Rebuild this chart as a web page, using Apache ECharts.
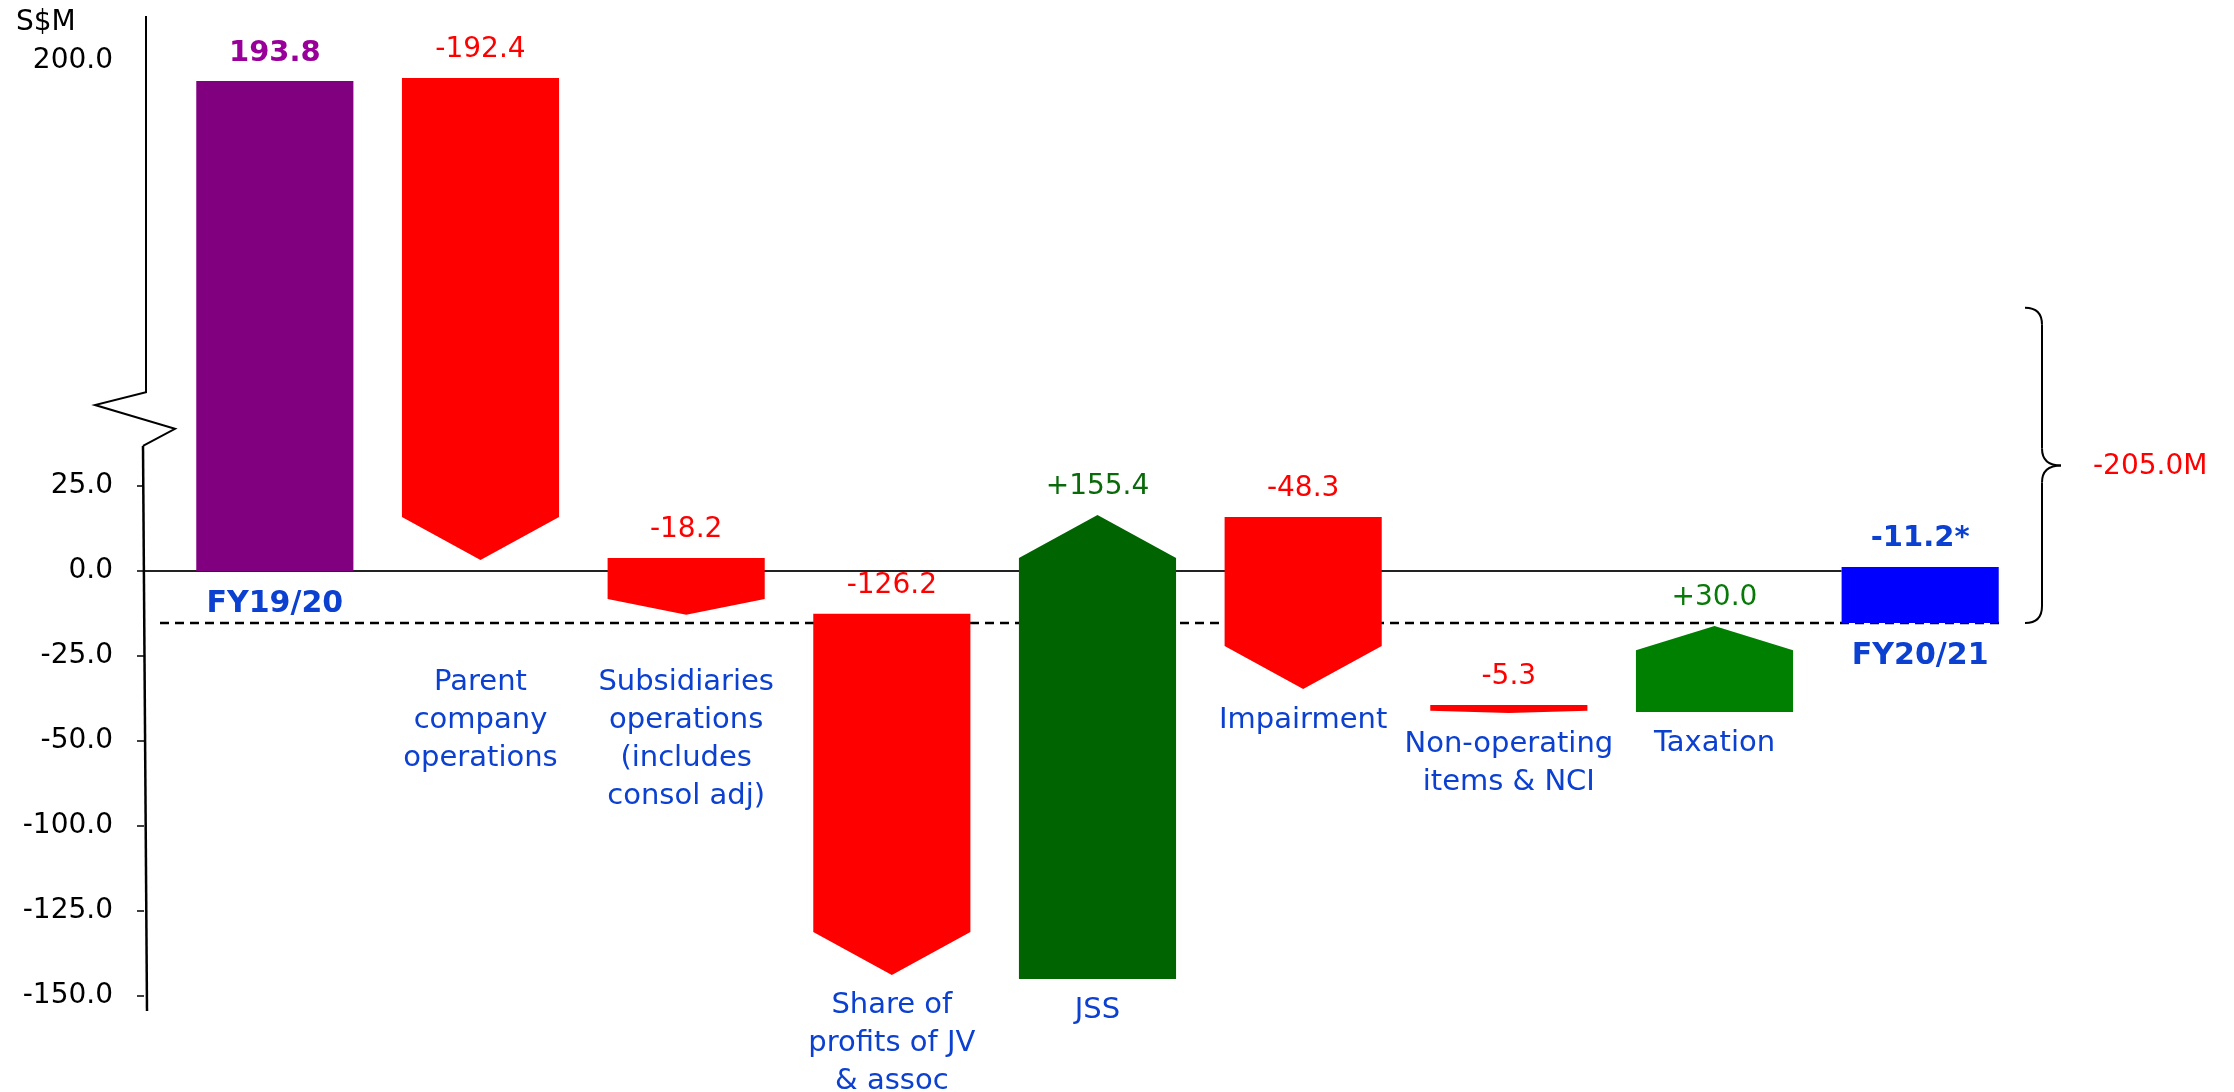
<!DOCTYPE html>
<html>
<head>
<meta charset="utf-8">
<title>Net profit bridge FY19/20 to FY20/21</title>
<script src="https://cdn.jsdelivr.net/npm/echarts@6/dist/echarts.min.js"></script>
<style>
    html, body { margin: 0; padding: 0; background: #fff; }
    #chart { width: 2234px; height: 1092px; }
</style>
</head>
<body>
<div id="chart"></div>
<script>
// Categories (line breaks as in the slide)
const categories = [
    'FY19/20',
    'Parent\ncompany\noperations',
    'Subsidiaries\noperations\n(includes\nconsol adj)',
    'Share of\nprofits of JV\n& assoc',
    'JSS',
    'Impairment',
    'Non-operating\nitems & NCI',
    'Taxation',
    'FY20/21'
];
// Printed values
const valueLabels = ['193.8', '-192.4', '-18.2', '-126.2', '+155.4', '-48.3', '-5.3', '+30.0', '-11.2*'];
// The slide is drawn on a broken, schematic scale: start/end of each shape
// in plotted axis units
const barStart = [0, 145, 3.8, -12.6, -120, 15.9, -39.4, -41.5, -15.3];
const barEnd = [144.1, 3.2, -12.9, -118.8, 16.5, -34.7, -41.8, -16.2, 1.2];
const isTotal = [true, false, false, false, false, false, false, false, true];

// Y axis: plotted position -> printed label
const tickValues = [150, 25, 0, -25, -50, -75, -100, -125];
const tickLabels = ['200.0', '25.0', '0.0', '-25.0', '-50.0', '-100.0', '-125.0', '-150.0'];

// Bracket on the right
const bracketRange = [77.4, -15.3];
const bracketLabel = '-205.0M';

// styles
const barColors = ['#800080', '#FF0000', '#FF0000', '#FF0000', '#006400', '#FF0000', '#FF0000', '#008000', '#0000FF'];
const labelColors = ['#990099', '#FF0000', '#FF0000', '#FF0000', '#0A6A0A', '#FF0000', '#FF0000', '#087A08', '#0B40D0'];
const CAT_COLOR = '#0B40D0';
const FONT = '"DejaVu Sans", Verdana, sans-serif';
const BAR_RATIO = 0.764;

const chart = echarts.init(document.getElementById('chart'));

function renderShape(params, api) {
    const i = api.value(0);
    const start = api.coord([i, api.value(1)]);
    const end = api.coord([i, api.value(2)]);
    const w = api.size([1, 0])[0] * BAR_RATIO;
    const cx = start[0];
    const x0 = cx - w / 2, x1 = cx + w / 2;
    const yS = start[1], yE = end[1];

    let points;
    if (isTotal[i]) {
        points = [[x0, yS], [x1, yS], [x1, yE], [x0, yE]];
    } else {
        // pentagon arrow pointing from start to end
        const len = Math.abs(yE - yS);
        const head = Math.min(43, len * 0.28);
        const dir = yE > yS ? 1 : -1;
        const neck = yE - dir * head;
        points = [[x0, yS], [x1, yS], [x1, neck], [cx, yE], [x0, neck]];
    }

    const topY = Math.min(yS, yE);
    const lowY = Math.max(yS, yE);
    const rowY = api.coord([i, -32])[1];
    const catCenter = isTotal[i] ? lowY + 33 : Math.max(lowY + 31, rowY + 3);
    const lineH = 38;

    return {
        type: 'group',
        children: [
            {
                type: 'polygon',
                shape: { points: points },
                style: { fill: barColors[i] }
            },
            {
                type: 'text',
                style: {
                    text: valueLabels[i],
                    x: cx,
                    y: topY - 28,
                    align: 'center',
                    verticalAlign: 'middle',
                    fill: labelColors[i],
                    fontFamily: FONT,
                    fontSize: isTotal[i] ? 29 : 28,
                    fontWeight: isTotal[i] ? 'bold' : 'normal'
                }
            },
            {
                type: 'text',
                style: {
                    text: categories[i],
                    x: cx,
                    y: catCenter - lineH / 2,
                    align: 'center',
                    verticalAlign: 'top',
                    lineHeight: lineH,
                    fill: CAT_COLOR,
                    fontFamily: FONT,
                    fontSize: isTotal[i] ? 30 : 29,
                    fontWeight: isTotal[i] ? 'bold' : 'normal'
                }
            }
        ]
    };
}

const option = {
    backgroundColor: '#fff',
    animation: false,
    grid: { left: 172, right: 211, top: 10, bottom: 79 },
    xAxis: {
        type: 'category',
        data: categories,
        show: false
    },
    yAxis: {
        type: 'value',
        min: -130,
        max: 165,
        offset: 28,
        axisLine: { show: false },
        splitLine: { show: false },
        axisTick: {
            show: true,
            length: 7,
            customValues: tickValues.filter(v => v !== 150),
            lineStyle: { color: '#000', width: 1.5 }
        },
        axisLabel: {
            customValues: tickValues,
            margin: 31,
            color: '#000',
            fontSize: 28,
            fontFamily: FONT,
            formatter: function (v) {
                const k = tickValues.indexOf(v);
                return k >= 0 ? tickLabels[k] : '';
            }
        }
    },
    series: [{
        type: 'custom',
        z: 5,
        renderItem: renderShape,
        data: categories.map((c, i) => [i, barStart[i], barEnd[i]])
    }]
};

chart.setOption(option);

// decorations placed through the axis scales
const py = v => chart.convertToPixel({ yAxisIndex: 0 }, v);
const px = i => chart.convertToPixel({ xAxisIndex: 0 }, i);
const axisX = 172 - 28;
const slot = px(1) - px(0);
const lastLeft = px(categories.length - 1) - slot * BAR_RATIO / 2;
const zeroY = py(0);
const closeY = py(barStart[barStart.length - 1]);
const bTop = py(bracketRange[0]);
const bBot = py(bracketRange[1]);
const bMid = (bTop + bBot) / 2;
const bx = 2042;
const r = 17;
const stroke = { stroke: '#000', lineWidth: 2, fill: null };

chart.setOption({
    graphic: [
        // upper axis part, break zigzag, lower axis part
        {
            type: 'polyline', z: 10,
            shape: { points: [[axisX + 2, py(163.2)], [axisX + 2, py(52.6)], [axisX - 49, py(48.8)], [axisX + 31, py(41.8)], [axisX - 1, py(36.8)]] },
            style: stroke
        },
        {
            type: 'line', z: 10,
            shape: { x1: axisX - 1, y1: py(36.8), x2: axisX + 3, y2: py(-129.4) },
            style: { stroke: '#000', lineWidth: 2.5 }
        },
        // zero line
        {
            type: 'line', z: 1,
            shape: { x1: axisX, y1: zeroY, x2: lastLeft, y2: zeroY },
            style: { stroke: '#222', lineWidth: 2 }
        },
        // closing level dashed line
        {
            type: 'line', z: 1,
            shape: { x1: 160, y1: closeY, x2: 2005, y2: closeY },
            style: { stroke: '#000', lineWidth: 2.5, lineDash: [9, 6] }
        },
        // curly bracket
        { type: 'bezierCurve', z: 10, shape: { x1: bx - r, y1: bTop, cpx1: bx, cpy1: bTop, x2: bx, y2: bTop + r }, style: stroke },
        { type: 'line', z: 10, shape: { x1: bx, y1: bTop + r, x2: bx, y2: bMid - r }, style: stroke },
        { type: 'bezierCurve', z: 10, shape: { x1: bx, y1: bMid - r, cpx1: bx, cpy1: bMid, x2: bx + 19, y2: bMid }, style: stroke },
        { type: 'bezierCurve', z: 10, shape: { x1: bx + 19, y1: bMid, cpx1: bx, cpy1: bMid, x2: bx, y2: bMid + r }, style: stroke },
        { type: 'line', z: 10, shape: { x1: bx, y1: bMid + r, x2: bx, y2: bBot - r }, style: stroke },
        { type: 'bezierCurve', z: 10, shape: { x1: bx, y1: bBot - r, cpx1: bx, cpy1: bBot, x2: bx - r, y2: bBot }, style: stroke },
        {
            type: 'text', z: 10,
            style: {
                text: bracketLabel, x: 2093, y: bMid + 1,
                verticalAlign: 'middle', fill: '#FF0000',
                fontFamily: FONT, fontSize: 28
            }
        },
        {
            type: 'text', z: 10,
            style: {
                text: 'S$M', x: 16, y: 23,
                verticalAlign: 'middle', fill: '#000',
                fontFamily: FONT, fontSize: 28
            }
        }
    ]
});

window.addEventListener('resize', () => chart.resize());
</script>
</body>
</html>
